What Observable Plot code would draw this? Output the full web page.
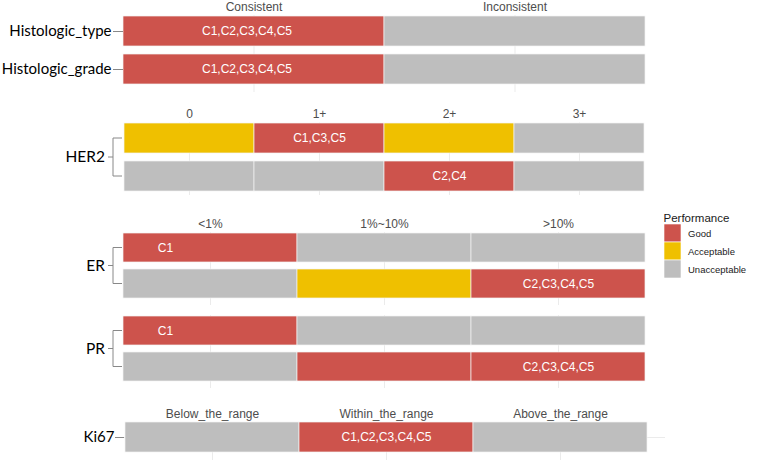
<!DOCTYPE html>
<html><head><meta charset="utf-8">
<script src="https://cdn.jsdelivr.net/npm/d3@7"></script>
<script src="https://cdn.jsdelivr.net/npm/@observablehq/plot@0.6"></script>
<style>
body{margin:0;background:#fff;}
#root{position:relative;width:763px;height:462px;overflow:hidden;font-family:"Liberation Sans",Arial,sans-serif;}
#root > svg{position:absolute;left:0;overflow:visible;}
</style></head><body><div id="root"></div>
<script>
// ---- data ----
const perfLevels = ["Good", "Acceptable", "Unacceptable"];
const perfColors = ["#CD534C", "#EFC000", "#BEBEBE"];

const histoCats = ["Consistent", "Inconsistent"];
const histoRows = ["Histologic_type", "Histologic_grade"];
const histoPerf = [["Good", "Unacceptable"], ["Good", "Unacceptable"]];
const histoLabels = [["C1,C2,C3,C4,C5", ""], ["C1,C2,C3,C4,C5", ""]];

const her2Cats = ["0", "1+", "2+", "3+"];
const her2Rows = ["HER2_a", "HER2_b"];
const her2Perf = [["Acceptable", "Good", "Acceptable", "Unacceptable"], ["Unacceptable", "Unacceptable", "Good", "Unacceptable"]];
const her2Labels = [["", "C1,C3,C5", "", ""], ["", "", "C2,C4", ""]];

const erCats = ["<1%", "1%~10%", ">10%"];
const erRows = ["ER_a", "ER_b"];
const erPerf = [["Good", "Unacceptable", "Unacceptable"], ["Unacceptable", "Acceptable", "Good"]];
const erLabels = [["C1", "", ""], ["", "", "C2,C3,C4,C5"]];

const prRows = ["PR_a", "PR_b"];
const prPerf = [["Good", "Unacceptable", "Unacceptable"], ["Unacceptable", "Good", "Good"]];
const prLabels = [["C1", "", ""], ["", "", "C2,C3,C4,C5"]];

const ki67Cats = ["Below_the_range", "Within_the_range", "Above_the_range"];
const ki67Rows = ["Ki67"];
const ki67Perf = [["Unacceptable", "Good", "Unacceptable"]];
const ki67Labels = [["", "C1,C2,C3,C4,C5", ""]];

const root = document.getElementById("root");
const LABEL_FONT = "Lato, 'Open Sans', sans-serif";

function panel(o) {
  const {cats, rows, perf, labels, top, height, marginTop, marginBottom, yRange,
    xRange, marginLeft = 123, marginRight = 118, paddingInner = 0.2, header = true,
    yAxis = "ticks", bracketLabel = null, tickSize = 10, tickPadding = 2,
    labelShift = 0, c1Shift = -45, hgrid = false} = o;
  const data = [];
  rows.forEach((r, i) => cats.forEach((c, j) => data.push({row: r, cat: c, perf: perf[i][j], label: labels[i][j]})));
  const marks = [
    Plot.ruleX(cats, {x: d => d, stroke: "#ebebeb", strokeWidth: 1}),
    hgrid ? Plot.ruleY(rows, {y: d => d, stroke: "#ebebeb", strokeWidth: 1}) : null,
    Plot.cell(data, {x: "cat", y: "row", fill: "perf", stroke: "#f4f4f4", strokeWidth: 0.7}),
    Plot.text(data.filter(d => d.label && d.label !== "C1"), {x: "cat", y: "row", text: "label", fill: "white", fontSize: 12, dx: labelShift}),
    Plot.text(data.filter(d => d.label === "C1"), {x: "cat", y: "row", text: "label", fill: "white", fontSize: 12, dx: c1Shift})
  ];
  if (header) marks.push(Plot.axisX({anchor: "top", tickSize: 0, tickPadding: 5, fontSize: 12, color: "#4d4d4d", label: null}));
  if (yAxis === "ticks") marks.push(Plot.axisY({anchor: "left", tickSize, tickPadding, fontSize: 15, fontFamily: LABEL_FONT, stroke: "#888", fill: "#000", label: null}));
  const xOpts = {type: "band", domain: cats, padding: 0};
  if (xRange) xOpts.range = xRange;
  if (!header) xOpts.axis = null;
  const yOpts = {type: "band", domain: rows, paddingInner, paddingOuter: 0, range: yRange};
  if (yAxis !== "ticks") yOpts.axis = null;
  const chart = Plot.plot({
    width: 763, height, marginTop, marginBottom, marginLeft, marginRight,
    x: xOpts, y: yOpts,
    color: {domain: perfLevels, range: perfColors},
    style: {fontFamily: "'Liberation Sans', Arial, sans-serif", background: "transparent", overflow: "visible"},
    marks: marks.filter(Boolean)
  });
  if (bracketLabel) {
    const ys = chart.scale("y"), xs = chart.scale("x");
    const x0 = xs.range[0];
    const c = rows.map(r => ys.apply(r) + ys.bandwidth / 2);
    const mid = (c[0] + c[c.length - 1]) / 2;
    const g = d3.select(chart).append("g");
    g.append("path")
      .attr("d", `M${x0 - 1},${c[0]}H${x0 - 10}V${c[1]}H${x0 - 1}M${x0 - 10},${mid}H${x0 - 15}`)
      .attr("fill", "none").attr("stroke", "#888").attr("stroke-width", 1);
    g.append("text").attr("x", x0 - 18).attr("y", mid).attr("dy", "0.35em")
      .attr("text-anchor", "end").attr("font-size", 15.5).attr("font-family", LABEL_FONT)
      .attr("fill", "#000").text(bracketLabel);
  }
  chart.style.top = top + "px";
  root.appendChild(chart);
  return chart;
}

panel({cats: histoCats, rows: histoRows, perf: histoPerf, labels: histoLabels,
  top: 0, height: 95, marginTop: 15, marginBottom: 3, yRange: [15, 84.5], labelShift: -7});
panel({cats: her2Cats, rows: her2Rows, perf: her2Perf, labels: her2Labels,
  top: 95, height: 105, marginTop: 27.5, marginBottom: 5, yRange: [27.5, 97], yAxis: "bracket", bracketLabel: "HER2"});
panel({cats: erCats, rows: erRows, perf: erPerf, labels: erLabels,
  top: 200, height: 105, marginTop: 32, marginBottom: 0, yRange: [32, 98], yAxis: "bracket", bracketLabel: "ER"});
panel({cats: erCats, rows: prRows, perf: prPerf, labels: prLabels, header: false,
  top: 305, height: 85, marginTop: 10, marginBottom: 2, yRange: [10, 76], yAxis: "bracket", bracketLabel: "PR"});
panel({cats: ki67Cats, rows: ki67Rows, perf: ki67Perf, labels: ki67Labels,
  top: 390, height: 72, marginTop: 32, marginBottom: 2, yRange: [32, 62], paddingInner: 0,
  marginLeft: 124, marginRight: 98, xRange: [124, 648], tickSize: 9, tickPadding: 1, hgrid: true});

// legend
const legend = Plot.plot({
  width: 110, height: 85, marginLeft: 14, marginRight: 79, marginTop: 24, marginBottom: 7,
  x: {type: "band", domain: ["key"], padding: 0, axis: null},
  y: {type: "band", domain: perfLevels, padding: 0, axis: null},
  color: {domain: perfLevels, range: perfColors},
  style: {fontFamily: "'Liberation Sans', Arial, sans-serif", background: "transparent", overflow: "visible"},
  marks: [
    Plot.cell(perfLevels, {x: () => "key", y: d => d, fill: d => d, stroke: "white", strokeWidth: 0.6}),
    Plot.text(perfLevels, {x: () => "key", y: d => d, text: d => d, textAnchor: "start", dx: 15, fontSize: 9.5, fill: "#1a1a1a"}),
    Plot.text(["Performance"], {frameAnchor: "top-left", dy: -11, dx: -1, text: d => d, textAnchor: "start", fontSize: 11.5, fill: "#1a1a1a"})
  ]
});
legend.style.left = "650px";
legend.style.top = "200px";
root.appendChild(legend);
</script>
</body></html>
